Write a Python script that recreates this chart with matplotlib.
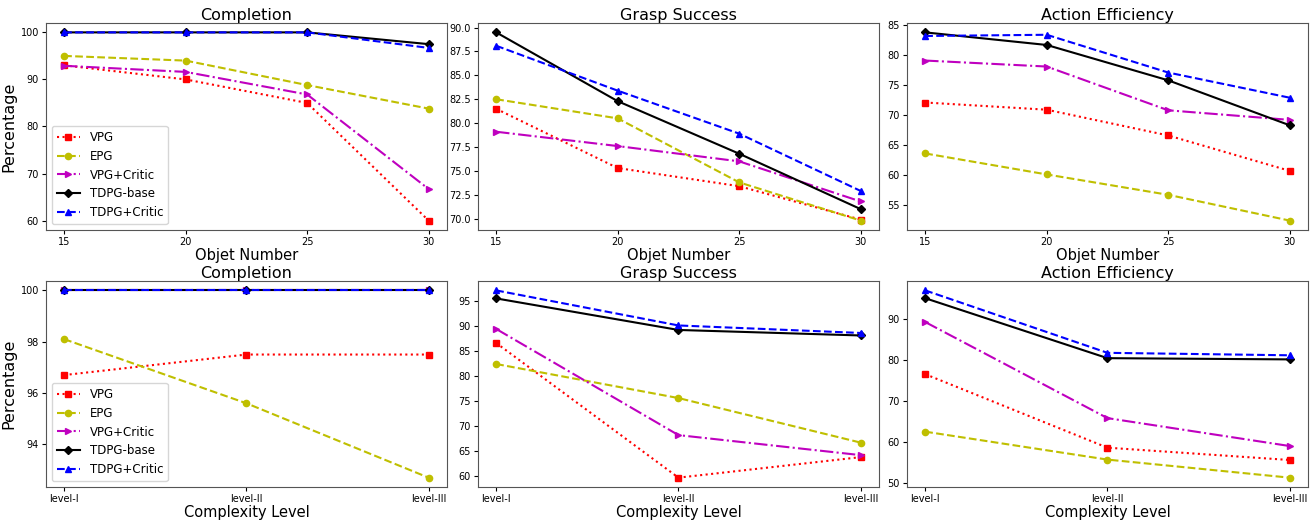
import matplotlib
matplotlib.use("Agg")
import matplotlib.pyplot as plt
from matplotlib.ticker import MultipleLocator

# x values
obj_num = [15, 20, 25, 30]
levels = ["level-I", "level-II", "level-III"]
methods = ["VPG", "EPG", "VPG+Critic", "TDPG-base", "TDPG+Critic"]
styles = ["r:s", "y--o", "m-.>", "k-D", "b--^"]

# top row: vs object number
comp_obj = [[93.0, 90.0, 85.0, 60.0],
            [95.0, 94.0, 88.8, 83.8],
            [92.9, 91.6, 86.8, 66.7],
            [100.0, 100.0, 100.0, 97.5],
            [100.0, 100.0, 100.0, 96.7]]
grasp_obj = [[81.5, 75.3, 73.4, 69.9],
             [82.5, 80.5, 73.8, 69.8],
             [79.1, 77.6, 76.0, 71.8],
             [89.5, 82.3, 76.8, 71.0],
             [88.1, 83.4, 78.9, 72.9]]
eff_obj = [[72.1, 70.9, 66.6, 60.7],
           [63.6, 60.1, 56.7, 52.4],
           [79.1, 78.1, 70.8, 69.2],
           [83.8, 81.7, 75.8, 68.3],
           [83.2, 83.4, 77.1, 72.9]]

# bottom row: vs complexity level
comp_lvl = [[96.7, 97.5, 97.5],
            [98.1, 95.6, 92.7],
            [100.0, 100.0, 100.0],
            [100.0, 100.0, 100.0],
            [100.0, 100.0, 100.0]]
grasp_lvl = [[86.6, 59.7, 63.8],
             [82.4, 75.6, 66.7],
             [89.4, 68.2, 64.2],
             [95.5, 89.2, 88.1],
             [97.1, 90.1, 88.6]]
eff_lvl = [[76.6, 58.7, 55.7],
           [62.6, 55.8, 51.4],
           [89.3, 65.9, 59.1],
           [95.1, 80.5, 80.2],
           [97.0, 81.8, 81.2]]

titles = ["Completion", "Grasp Success", "Action Efficiency"]
ysteps = [[10, 2.5, 5], [2, 5, 10]]

fig = plt.figure(figsize=(13.12, 5.22), dpi=100)
lefts = [0.035, 0.3643, 0.6913]
w = 0.3056
rows = [(0.5594, 0.3966, obj_num, [comp_obj, grasp_obj, eff_obj], "Objet Number"),
        (0.067, 0.3946, levels, [comp_lvl, grasp_lvl, eff_lvl], "Complexity Level")]

for i, (bot, h, xs, datasets, xlab) in enumerate(rows):
    for j, data in enumerate(datasets):
        ax = fig.add_axes([lefts[j], bot, w, h])
        for name, st, ys in zip(methods, styles, data):
            ax.plot(xs, ys, st, label=name, lw=1.5, ms=4.5)
        ax.set_title(titles[j], fontsize=11.5, pad=2)
        ax.set_xlabel(xlab, fontsize=10.5, labelpad=1)
        ax.tick_params(labelsize=7, length=3, pad=2)
        ax.yaxis.set_major_locator(MultipleLocator(ysteps[i][j]))
        if xs is obj_num:
            ax.set_xticks(obj_num)
        for s in ax.spines.values():
            s.set_color("#555555")
        if j == 0:
            ax.set_ylabel("Percentage", fontsize=11.5, labelpad=3)
            ax.legend(loc="lower left", fontsize=8.5)

fig.savefig("out.png", dpi=100)
